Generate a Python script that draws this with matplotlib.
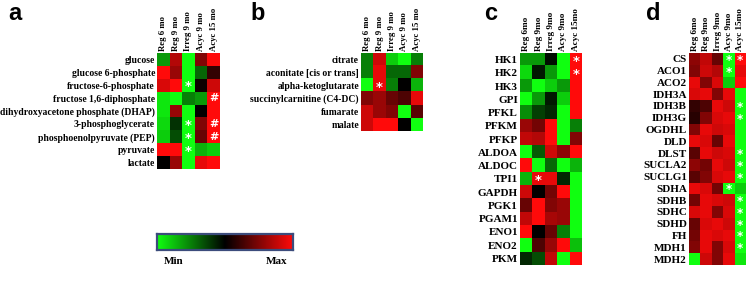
import numpy as np
import matplotlib
matplotlib.use("Agg")
import matplotlib.pyplot as plt
from matplotlib.colors import LinearSegmentedColormap

W, H = 748, 292

# ---------------- data (relative level, -1 = Min, +1 = Max) ----------------
cols_ab = ["Reg 6 mo", "Reg 9 mo", "Irreg 9 mo", "Acyc 9 mo", "Acyc 15 mo"]
cols_cd = ["Reg 6mo", "Reg 9mo", "Irreg 9mo", "Acyc 9mo", "Acyc 15mo"]

rows_a = ["glucose", "glucose 6-phosphate", "fructose-6-phosphate",
          "fructose 1,6-diphosphate", "dihydroxyacetone phosphate (DHAP)",
          "3-phosphoglycerate", "phosphoenolpyruvate (PEP)", "pyruvate", "lactate"]
vals_a = [
    [-0.6, 0.7, -1.0, 0.5, 1.0],
    [1.0, 0.6, -1.0, -0.4, 0.2],
    [0.85, 1.0, -1.0, 0.05, 0.8],
    [-0.9, -1.0, -0.5, -0.6, 1.0],
    [-0.9, 0.6, -1.0, 0.0, 1.0],
    [-0.85, -0.2, -1.0, 0.5, 1.0],
    [-0.8, -0.3, -1.0, 0.4, 1.0],
    [1.0, 1.0, -1.0, -0.7, -0.8],
    [0.0, 0.6, -1.0, 0.9, 1.0],
]
marks_a = [(2, 2, "*"), (5, 2, "*"), (6, 2, "*"), (7, 2, "*"),
           (3, 4, "#"), (5, 4, "#"), (6, 4, "#")]

rows_b = ["citrate", "aconitate [cis or trans]", "alpha-ketoglutarate",
          "succinylcarnitine (C4-DC)", "fumarate", "malate"]
vals_b = [
    [-0.5, 0.8, -0.8, -1.0, -0.5],
    [-0.5, 0.9, -0.4, -0.4, 0.5],
    [-1.0, 0.9, -0.5, 0.0, -0.7],
    [0.5, 0.6, 0.4, 0.3, 0.9],
    [0.8, 0.6, 0.5, -1.0, 0.35],
    [0.8, 1.0, 1.0, 0.0, -1.0],
]
marks_b = [(2, 1, "*")]

rows_c = ["HK1", "HK2", "HK3", "GPI", "PFKL", "PFKM", "PFKP", "ALDOA", "ALDOC",
          "TPI1", "GAPDH", "PGK1", "PGAM1", "ENO1", "ENO2", "PKM"]
vals_c = [
    [-0.6, -0.6, -0.05, -1.0, 1.0],
    [-0.85, -0.1, -0.6, -1.0, 1.0],
    [-0.6, -1.0, -0.8, -0.6, 1.0],
    [-1.0, -0.6, -0.1, -0.8, 1.0],
    [-0.55, -0.25, -0.15, -1.0, 1.0],
    [0.6, 0.45, 1.0, -1.0, -0.5],
    [0.75, 0.7, 1.0, -1.0, 0.5],
    [-1.0, -0.35, 0.8, 0.55, 1.0],
    [1.0, -1.0, -0.4, -1.0, -0.7],
    [-0.7, 0.9, 0.9, -0.15, -1.0],
    [0.8, 0.0, 0.45, 1.0, -1.0],
    [0.4, 1.0, 0.5, 0.6, -1.0],
    [0.75, 1.0, 0.65, 0.6, -1.0],
    [1.0, 0.0, 0.4, -0.5, -1.0],
    [-1.0, 0.3, 0.6, 1.0, -0.75],
    [-0.15, -0.3, 0.75, -1.0, 1.0],
]
marks_c = [(0, 4, "*"), (1, 4, "*"), (9, 1, "*")]

rows_d = ["CS", "ACO1", "ACO2", "IDH3A", "IDH3B", "IDH3G", "OGDHL", "DLD", "DLST",
          "SUCLA2", "SUCLG1", "SDHA", "SDHB", "SDHC", "SDHD", "FH", "MDH1", "MDH2"]
vals_d = [
    [0.55, 0.75, 0.4, -1.0, 1.0],
    [0.5, 0.8, 0.7, -1.0, 0.9],
    [0.9, 0.5, 0.85, -0.8, 1.0],
    [0.85, 0.9, 0.5, 0.9, -1.0],
    [0.2, 0.3, 0.9, 0.8, -1.0],
    [0.15, 0.5, 0.85, 0.9, -1.0],
    [0.5, 0.9, 0.8, 0.85, -1.0],
    [0.9, 0.85, 0.4, 0.9, -1.0],
    [0.35, 0.9, 0.8, 0.85, -1.0],
    [0.55, 0.45, 0.9, 0.8, -1.0],
    [0.35, 0.5, 0.85, 0.9, -1.0],
    [0.9, 0.85, 0.45, -1.0, -0.8],
    [0.45, 0.9, 0.85, 0.8, -1.0],
    [0.85, 0.9, 0.5, 0.85, -1.0],
    [0.4, 0.85, 0.9, 0.8, -1.0],
    [0.45, 0.9, 0.85, 0.9, -1.0],
    [0.5, 0.9, 0.5, 0.85, -1.0],
    [-1.0, 0.8, 0.5, 0.9, -0.9],
]
marks_d = [(0, 3, "*"), (0, 4, "*"), (1, 3, "*"), (11, 3, "*"),
           (4, 4, "*"), (5, 4, "*"), (8, 4, "*"), (9, 4, "*"), (10, 4, "*"),
           (12, 4, "*"), (13, 4, "*"), (14, 4, "*"), (15, 4, "*"), (16, 4, "*")]

# ---------------- drawing ----------------
cmap = LinearSegmentedColormap.from_list("gkr", ["#10ff10", "#000000", "#ff0a0a"])
serif = ["Liberation Serif", "DejaVu Serif"]

fig = plt.figure(figsize=(W / 100, H / 100), dpi=100)
fig.patch.set_facecolor("white")


def px_axes(x0, y0, x1, y1):
    return fig.add_axes([x0 / W, 1 - y1 / H, (x1 - x0) / W, (y1 - y0) / H])


def heat(box, rows, cols, vals, marks, rfs, cfs, mfs):
    ax = px_axes(*box)
    ax.imshow(np.array(vals), cmap=cmap, vmin=-1, vmax=1, aspect="auto",
              interpolation="nearest")
    ax.set_xticks(range(len(cols)))
    ax.set_xticklabels(cols, rotation=90, fontfamily=serif, fontweight="bold",
                       fontsize=cfs)
    ax.xaxis.tick_top()
    ax.set_yticks(range(len(rows)))
    ax.set_yticklabels(rows, fontfamily=serif, fontweight="bold", fontsize=rfs)
    ax.tick_params(length=0, pad=1.5)
    for s in ax.spines.values():
        s.set_visible(False)
    for r, c, m in marks:
        ax.text(c, r + (0.12 if m == "*" else 0.0), m, color="white",
                ha="center", va="center", fontsize=mfs if m == "*" else 8,
                fontweight="bold", fontfamily="DejaVu Sans")
    return ax


heat((157, 53, 220, 169), rows_a, cols_ab, vals_a, marks_a, 6.9, 6.3, 9.5)
heat((361, 53, 423, 131), rows_b, cols_ab, vals_b, marks_b, 6.9, 6.3, 9.5)
heat((520, 53, 582, 265), rows_c, cols_cd, vals_c, marks_c, 8.0, 6.6, 9.5)
heat((689, 53, 746, 265), rows_d, cols_cd, vals_d, marks_d, 8.0, 6.6, 8.5)

for x, lab in [(8, "a"), (250, "b"), (484, "c"), (646, "d")]:
    fig.text(x / W, 1 - 20 / H, lab, fontsize=17, fontweight="bold",
             fontfamily="Liberation Sans", ha="left", va="baseline")

# colour scale legend
cax = px_axes(157, 234, 293, 250)
cax.imshow(np.linspace(-1, 1, 256)[None, :], cmap=cmap, vmin=-1, vmax=1,
           aspect="auto", interpolation="bilinear")
cax.set_xticks([])
cax.set_yticks([])
for s in cax.spines.values():
    s.set_edgecolor("#3c4c7c")
    s.set_linewidth(1.6)
fig.text(174 / W, 1 - 262 / H, "Min", fontsize=8, fontweight="bold",
         fontfamily=serif, ha="center", va="center")
fig.text(277 / W, 1 - 262 / H, "Max", fontsize=8, fontweight="bold",
         fontfamily=serif, ha="center", va="center")

fig.savefig("out.png", dpi=100, facecolor="white")
